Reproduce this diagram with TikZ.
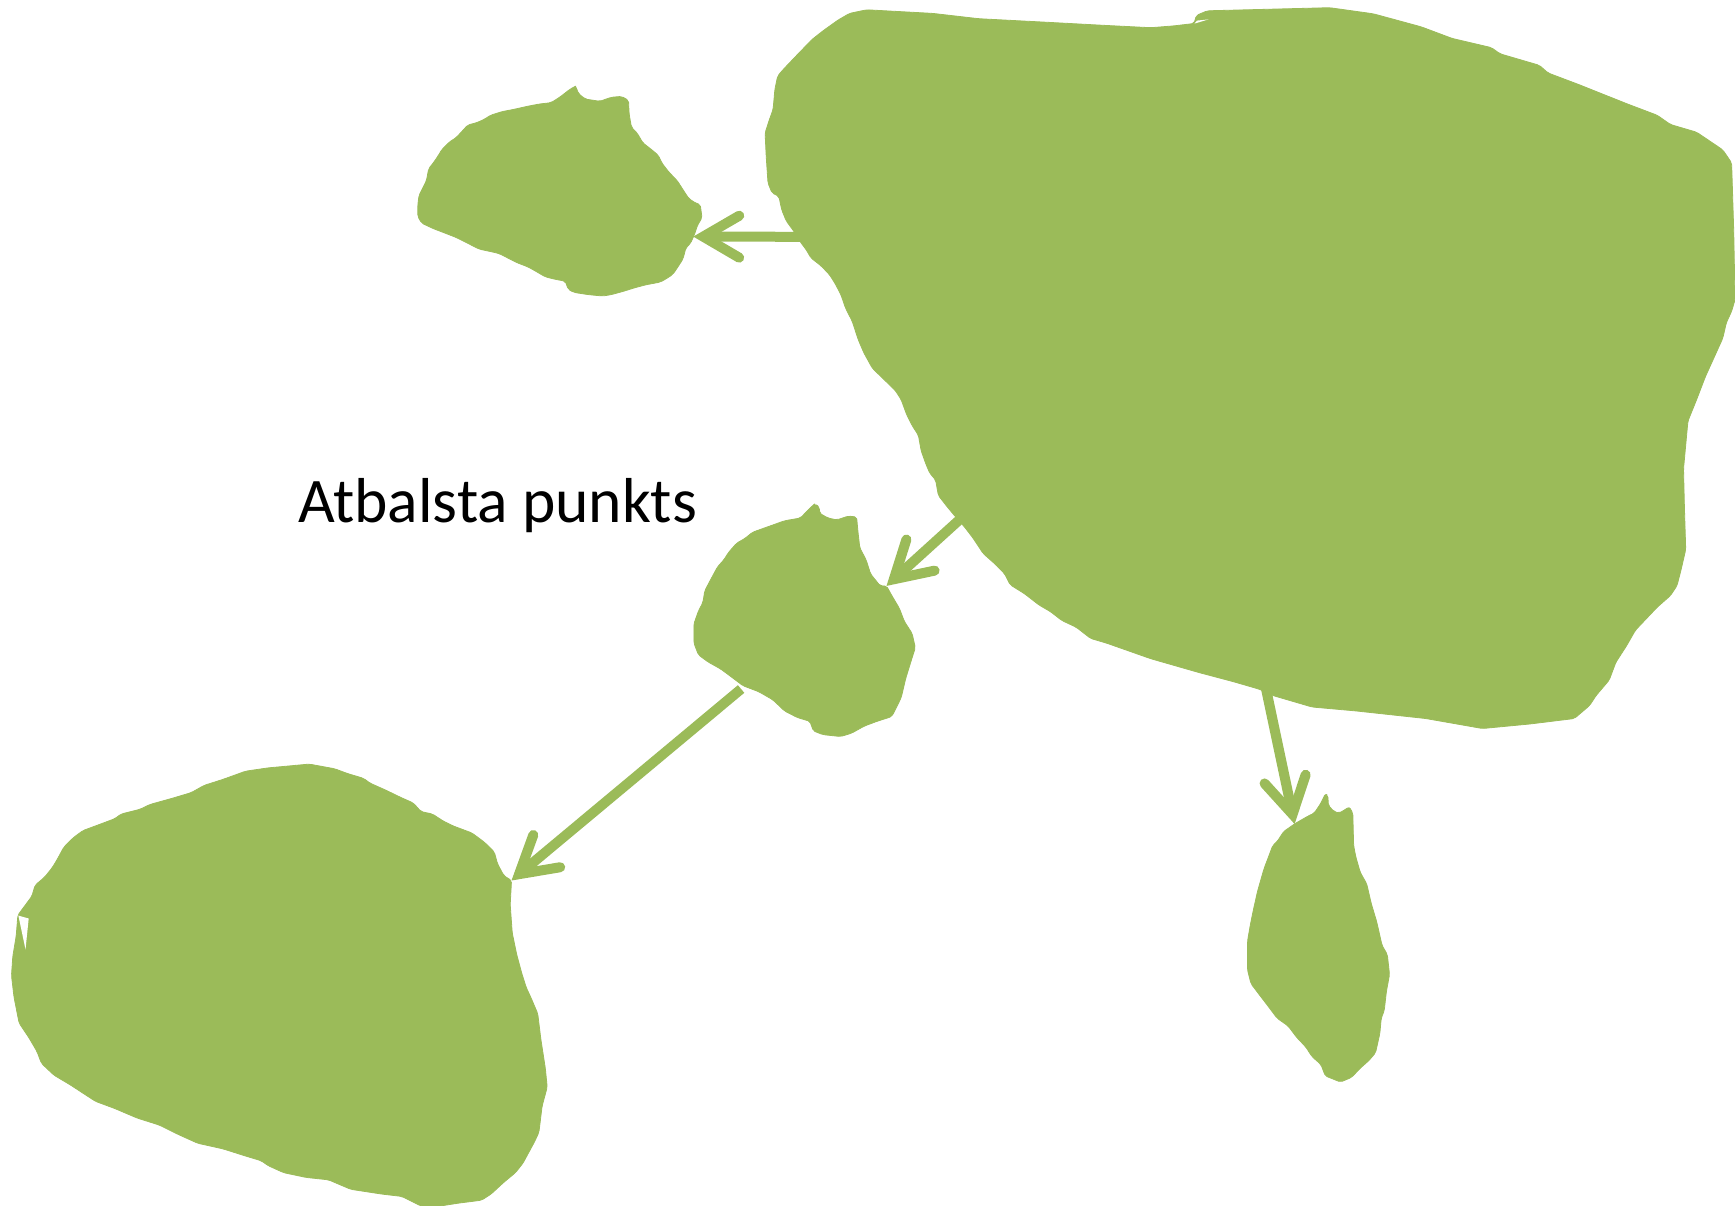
\documentclass[tikz,border=0pt]{standalone}
\usepackage{fontspec}
\setmainfont{Carlito}
\usetikzlibrary{arrows.meta}
\definecolor{leaf}{HTML}{9BBB59}
\tikzset{
  blob/.style={fill=leaf, draw=leaf, line width=0.8pt, line join=round, rounded corners=2pt},
  gap/.style={fill=white},
  conn/.style={draw=leaf, line width=10pt, line cap=butt,
    -{Straight Barb[length=36pt,width=42pt,line cap=round,line join=miter]}},
  lbl/.style={font=\fontsize{63.5}{76}\selectfont, inner sep=0pt, anchor=base west}
}
\begin{document}
\begin{tikzpicture}[x=1pt,y=-1pt]
\useasboundingbox (0,0) rectangle (1735,1205);
% blob 1 (top middle)
\fill[blob] (575.7,86.2) -- (578.5,93.7) -- (585.4,99.1) -- (599.8,101.3) -- (611.3,97.3) -- (621.6,96.4) -- (628.5,100.4) -- (629.1,113.8) -- (631.4,127.2) -- (637.1,133.0) -- (642.8,142.8) -- (651.4,149.5) -- (658.3,155.3) -- (661.8,162.9) -- (668.7,171.9) -- (677.3,180.8) -- (683.0,189.7) -- (688.8,198.6) -- (695.6,203.1) -- (700.2,204.5) -- (702.0,217.8) -- (697.4,225.4) -- (694.5,234.4) -- (690.5,243.3) -- (685.9,247.8) -- (683.0,258.9) -- (677.3,267.8) -- (672.7,274.5) -- (665.8,279.0) -- (660.1,282.1) -- (645.7,284.8) -- (634.2,287.9) -- (622.7,291.5) -- (611.3,294.6) -- (602.7,296.0) -- (588.3,294.6) -- (574.0,292.4) -- (568.2,289.3) -- (565.3,281.2) -- (553.9,279.0) -- (545.3,276.8) -- (533.8,270.1) -- (528.0,266.9) -- (516.6,262.5) -- (507.9,258.0) -- (499.3,253.6) -- (493.6,252.2) -- (479.2,249.1) -- (467.8,243.3) -- (456.3,237.5) -- (444.8,233.0) -- (433.3,228.6) -- (421.8,223.2) -- (417.8,216.5) -- (417.8,205.3) -- (419.0,195.5) -- (423.0,187.5) -- (426.4,180.8) -- (428.7,168.7) -- (433.3,162.9) -- (437.9,156.2) -- (441.9,149.5) -- (449.4,142.0) -- (456.3,137.5) -- (463.7,129.5) -- (467.8,125.0) -- (476.4,122.8) -- (483.8,119.6) -- (490.7,115.2) -- (502.2,111.6) -- (513.7,109.4) -- (528.0,106.2) -- (539.5,104.0) -- (551.0,102.7) -- (559.6,97.3) -- (565.3,92.9) -- (569.9,89.3) -- (574.0,87.0) -- cycle;
% blob 2 (large, top right)
\fill[blob] (866.7,9.8) -- (932.7,13.4) -- (978.6,18.7) -- (1047.5,22.3) -- (1104.9,25.4) -- (1150.8,27.7) -- (1173.8,25.9) -- (1194,23.5) -- (1196.4,15.4) -- (1207.3,10.8) -- (1329.6,7.7) -- (1373.3,13.8) -- (1421.4,26.9) -- (1452,38.4) -- (1491.3,47.6) -- (1500,53.8) -- (1539.3,65.3) -- (1548.1,73) -- (1578.6,84.5) -- (1626.7,103.7) -- (1657.3,115.3) -- (1670.4,124.5) -- (1696.6,132.2) -- (1722.8,149.9) -- (1731.6,162.9) -- (1733.7,230.6) -- (1735,299.7) -- (1731.6,311.2) -- (1726.3,322.8) -- (1722.8,338.1) -- (1714.1,357.4) -- (1705.4,376.6) -- (1696.6,399.6) -- (1687.9,421.1) -- (1683.5,468.8) -- (1684.4,507.2) -- (1685.7,549.5) -- (1681.3,568.7) -- (1677,585.6) -- (1670.4,595.6) -- (1657.3,607.1) -- (1635.4,630.2) -- (1626.7,645.5) -- (1615.8,662.4) -- (1609.2,680.1) -- (1596.1,695.5) -- (1589.6,705.5) -- (1574.3,718.5) -- (1530.6,723.9) -- (1482.5,728.5) -- (1425.7,718.5) -- (1355.8,710.9) -- (1312.1,707) -- (1272.8,695.5) -- (1259.7,689.3) -- (1233.5,681.7) -- (1198.5,672.4) -- (1150.5,658.6) -- (1106.8,643.2) -- (1090.6,638.4) -- (1076.2,627.2) -- (1061.9,620.5) -- (1050.4,611.6) -- (1038.9,604.9) -- (1024.5,593.7) -- (1010.2,584.8) -- (1004.5,573.6) -- (995.8,564.7) -- (983.2,553.5) -- (972.9,537.9) -- (964.3,526.7) -- (955.7,517) -- (947.1,506.7) -- (938.4,495.5) -- (935.6,479.9) -- (929.8,473.2) -- (926,464.3) -- (921.2,450.9) -- (918.4,435.2) -- (912.6,426.3) -- (906.9,415.2) -- (901.1,399.5) -- (895.4,390.6) -- (883.9,379.4) -- (872.4,368.3) -- (863.8,352.7) -- (858.1,339.3) -- (852.3,321.4) -- (845.5,308) -- (840.9,294.6) -- (835.1,283.5) -- (829.4,274.5) -- (820.8,265.6) -- (811,258) -- (806.4,250) -- (800.7,242.4) -- (793.8,231.2) -- (786.3,221) -- (781.7,209.8) -- (778.9,196.4) -- (772,192.8) -- (768,183) -- (766.2,156.2) -- (765.1,133) -- (769.1,120.5) -- (773.1,109.4) -- (774.9,89.3) -- (777.7,75.9) -- (783.5,69.2) -- (795,57.1) -- (803.6,48.2) -- (812.2,39.3) -- (823.6,30.4) -- (838,20.1) -- (849.5,13.4) -- cycle;
\fill[gap] (1194.5,23.6) -- (1208.5,19.4) -- (1197,20.6) -- cycle;
% blob 5 (middle)
\fill[blob] (815.1,503.7) -- (819.5,507.5) -- (819.5,513.2) -- (827.9,518) -- (836.8,519.9) -- (848.3,516.1) -- (856.6,517) -- (857.9,531.3) -- (859.8,547.9) -- (866.1,559.8) -- (870.6,574) -- (880.2,585.9) -- (886.5,585.9) -- (891.7,595.4) -- (899.3,608.2) -- (904.4,621.5) -- (912.1,633.4) -- (915.3,647.7) -- (910.8,661.9) -- (905.7,678.5) -- (901.2,697.6) -- (896.1,708) -- (891.7,716.6) -- (877,721.3) -- (864.2,726.1) -- (851.5,733.2) -- (840.6,736.5) -- (822.8,734.6) -- (813.2,730.8) -- (810,721.3) -- (797.3,717.5) -- (784.5,710.9) -- (773,699.9) -- (759,691.8) -- (743,685.7) -- (733.5,678.5) -- (720.7,669) -- (708,661.9) -- (698.4,654.8) -- (693.9,642.9) -- (693.9,623.9) -- (698.4,611.1) -- (702.9,602.5) -- (704.8,590.7) -- (711.1,578.8) -- (717.5,566.9) -- (723.9,559.8) -- (728.4,552.6) -- (736.7,543.1) -- (745,538.4) -- (752.6,532.2) -- (768.6,526.5) -- (784.5,520.8) -- (800.5,518) -- (806.8,511.3) -- (813.2,505.1) -- cycle;
% blob 4 (bottom right)
\fill[blob] (1294.7,823.8) -- (1307.8,816.2) -- (1314.3,813.1) -- (1320.9,803.1) -- (1325.3,793.9) -- (1327.9,795.4) -- (1328.3,805.4) -- (1334,811.5) -- (1339.2,813.1) -- (1349.3,807) -- (1352.8,813.1) -- (1353.6,845.4) -- (1355.8,856.9) -- (1360.2,872.3) -- (1366.7,883.8) -- (1371.1,903) -- (1376.8,922.2) -- (1382,945.3) -- (1387.3,954.5) -- (1389.5,974.5) -- (1386.4,991.4) -- (1384.2,1010.6) -- (1381.2,1018.3) -- (1379.8,1033.6) -- (1375.5,1052.8) -- (1368.9,1060.5) -- (1360.2,1068.2) -- (1351.5,1077.4) -- (1340.5,1082) -- (1325.3,1075.9) -- (1320.9,1064.4) -- (1312.1,1056.7) -- (1305.6,1046.7) -- (1296.8,1037.5) -- (1288.1,1025.9) -- (1277.2,1018.3) -- (1268.5,1006.7) -- (1259.7,995.2) -- (1251,983.7) -- (1247.5,969.9) -- (1247.5,941.4) -- (1250.1,926.1) -- (1253.2,910.7) -- (1257.5,891.5) -- (1264.1,868.4) -- (1268.5,856.9) -- (1272.8,845.4) -- (1277.2,841.5) -- (1283.7,831.5) -- (1290.3,826.9) -- cycle;
% blob 3 (bottom left)
\fill[blob] (309.3,764.1) -- (334.8,768.8) -- (347.6,773.6) -- (363.5,778.3) -- (369.9,783.1) -- (385.9,790.2) -- (400.5,797.3) -- (413.3,803) -- (421,811.6) -- (432.4,814) -- (443.3,821.1) -- (452.8,825.8) -- (472,833) -- (484.7,842.5) -- (494.3,852) -- (497.5,863.8) -- (503.9,875.7) -- (511.5,880.5) -- (510.2,904.6) -- (512.2,932.7) -- (516.6,954.1) -- (521.7,973.1) -- (526.2,987.4) -- (530.6,996.9) -- (537.7,1013.5) -- (540.9,1039.6) -- (545.3,1068.1) -- (547.2,1087.1) -- (542.1,1106.1) -- (538.9,1132.3) -- (534.5,1141.8) -- (528.1,1153.6) -- (523,1163.1) -- (515.4,1172.7) -- (503.9,1182.2) -- (491.1,1194) -- (481.5,1200.2) -- (459.2,1203) -- (440.1,1206) -- (421,1206) -- (401.8,1196.4) -- (381.4,1194) -- (350.8,1189.3) -- (328.5,1179.8) -- (306.1,1177.4) -- (283.8,1172.7) -- (267.9,1165.5) -- (261.5,1160.8) -- (245.6,1156) -- (223.2,1148.9) -- (197.7,1143.2) -- (178.6,1134.6) -- (159.5,1125.1) -- (137.1,1118) -- (114.8,1108.5) -- (95.7,1101.4) -- (86.1,1095.2) -- (70.2,1084.8) -- (54.2,1075.3) -- (41.5,1063.4) -- (37,1051.5) -- (28.7,1037.3) -- (19.1,1023) -- (14,996.9) -- (11.5,975.5) -- (12.8,956.5) -- (16.2,936) -- (17.9,915.1) -- (24.2,906.6) -- (31.9,896.2) -- (35.1,885.2) -- (44.6,877.2) -- (52.3,867.6) -- (57.4,859.1) -- (63.8,847.2) -- (73.3,837.7) -- (82.9,830.6) -- (102,823.5) -- (114.8,818.7) -- (121.2,814) -- (140.3,809.2) -- (149.9,804.5) -- (172.2,798.3) -- (191.3,792.6) -- (204.1,785.4) -- (223.2,779.3) -- (245.6,771.2) -- (267.9,767.9) -- cycle;
\fill[gap] (18.4,915.6) -- (28.7,918.5) -- (25.5,949.4) -- cycle;
% connector end points
\coordinate (s1) at (806,236.8);
\coordinate (t1) at (693.3,236.6);
\coordinate (s5) at (965.8,514);
\coordinate (t5) at (886.5,585.9);
\coordinate (s4) at (1265,684);
\coordinate (t4) at (1294.6,824);
\coordinate (s3) at (741.1,689);
\coordinate (t3) at (511.5,880.5);
\draw[conn] (s1) -- (t1);
\draw[conn] (s5) -- (t5);
\draw[conn] (s4) -- (t4);
\draw[conn] (s3) -- (t3);
% label
\node[lbl] (label) at (298,522) {Atbalsta punkts};
\end{tikzpicture}
\end{document}
